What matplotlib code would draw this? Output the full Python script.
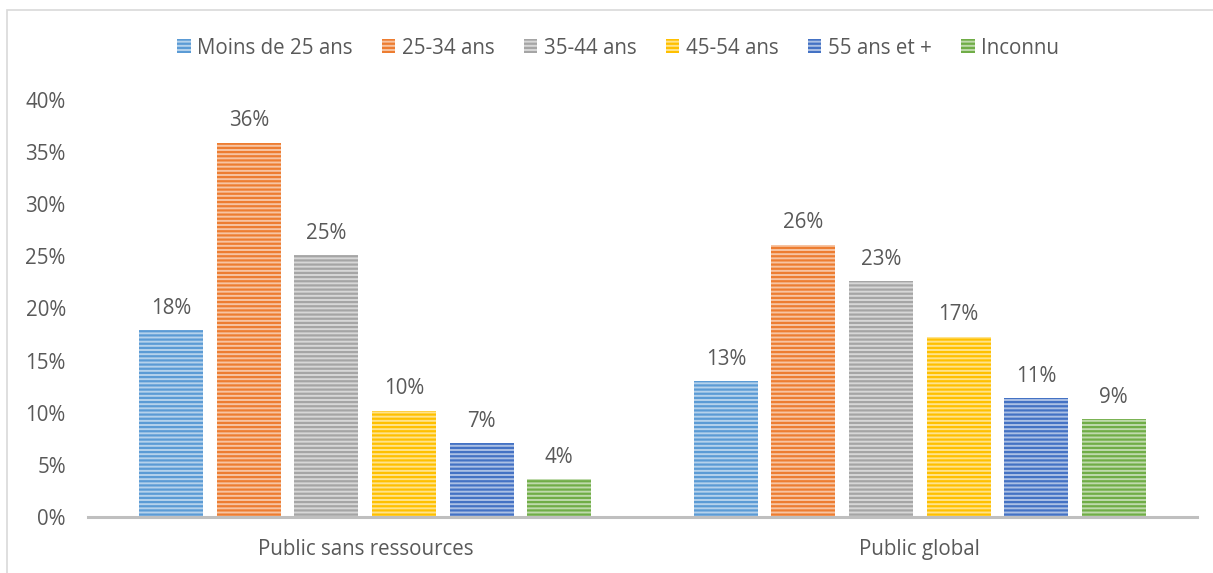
import numpy as np
import matplotlib.pyplot as plt
from matplotlib.patches import Rectangle, Patch

plt.rcParams['font.family'] = ['Open Sans', 'DejaVu Sans']
plt.rcParams['hatch.linewidth'] = 1.6

# Données
groupes = ['Public sans ressources', 'Public global']
tranches = ['Moins de 25 ans', '25-34 ans', '35-44 ans', '45-54 ans', '55 ans et +', 'Inconnu']
sans_ressources = [17.9, 35.9, 25.1, 10.2, 7.1, 3.6]
global_ = [13.0, 26.1, 22.6, 17.3, 11.4, 9.4]
couleurs = ['#5B9BD5', '#ED7D31', '#A5A5A5', '#FFC000', '#4472C4', '#70AD47']

valeurs = np.array([sans_ressources, global_])
texte = '#595959'
taille = 14.8

def eclaircir(c, f=0.55):
    rgb = np.array(plt.matplotlib.colors.to_rgb(c))
    return tuple(rgb + (1 - rgb) * f)

fig = plt.figure(figsize=(12.13, 5.73), dpi=100)
ax = fig.add_axes([88 / 1213, 1 - 517 / 573, 1109 / 1213, 417 / 573])

# cadre du graphique
fig.patches.append(Rectangle((7 / 1213, -0.1), 1.2, 1 - 10 / 573 + 0.1,
                             transform=fig.transFigure, fill=False,
                             edgecolor='#D9D9D9', linewidth=1.2))

x = np.arange(len(groupes))
pas = 0.1398
largeur = 0.1154
for i, (nom, c) in enumerate(zip(tranches, couleurs)):
    pos = x + (i - 2.5) * pas
    ax.bar(pos, valeurs[:, i], width=largeur, color=eclaircir(c),
           edgecolor=c, hatch='----', linewidth=0, label=nom)
    for xp, v in zip(pos, valeurs[:, i]):
        ax.text(xp, v + 1.1, f'{v:.0f}%', ha='center', va='bottom',
                fontsize=taille, color=texte)

ax.set_xlim(-0.5, 1.5)
ax.set_ylim(0, 40)
ax.set_yticks(np.arange(0, 41, 5))
ax.set_yticklabels([f'{t}%' for t in range(0, 41, 5)])
ax.set_xticks(x)
ax.set_xticklabels(groupes)
ax.tick_params(axis='both', length=0, labelsize=taille, colors=texte)
ax.tick_params(axis='y', pad=16)
ax.tick_params(axis='x', pad=16)
for s in ['top', 'right', 'left']:
    ax.spines[s].set_visible(False)
ax.spines['bottom'].set_color('#BFBFBF')
ax.spines['bottom'].set_linewidth(2.2)

poignees = [Patch(facecolor=eclaircir(c), edgecolor=c, hatch='----', linewidth=0)
            for c in couleurs]
fig.legend(poignees, tranches, loc='center', bbox_to_anchor=(618 / 1213, 1 - 48 / 573),
           ncol=6, frameon=False, fontsize=taille, labelcolor=texte,
           handlelength=0.65, handleheight=0.65, handletextpad=0.3, columnspacing=1.45)

fig.savefig('out.png', dpi=100)
